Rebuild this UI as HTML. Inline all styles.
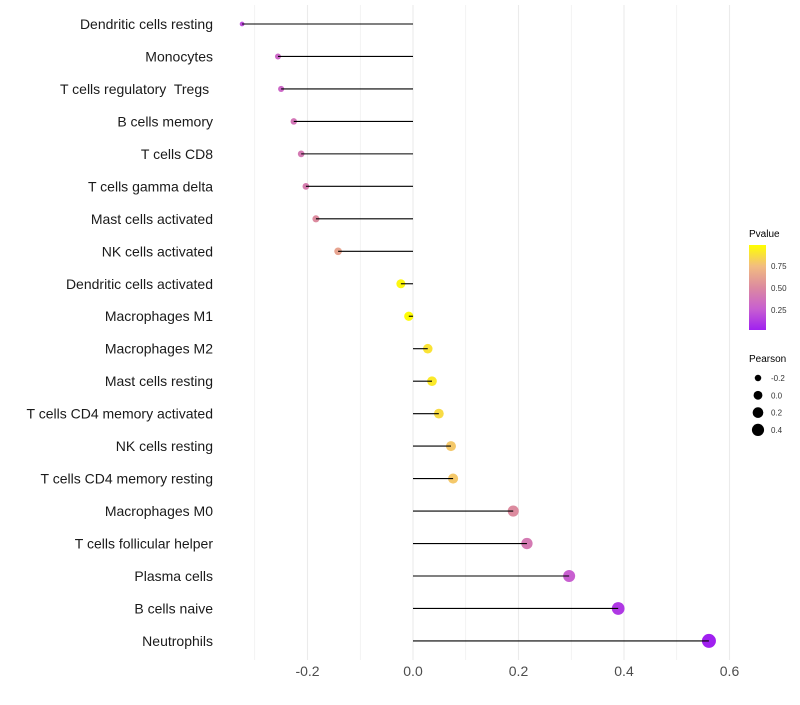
<!DOCTYPE html>
<html><head><meta charset="utf-8"><style>
body{margin:0;background:#fff;font-family:"Liberation Sans",sans-serif}
</style></head><body>
<svg id="chart" width="800" height="700" xmlns="http://www.w3.org/2000/svg">
<defs><linearGradient id="pg" x1="0" y1="1" x2="0" y2="0">
<stop offset="0" stop-color="#a020f0"/><stop offset="0.25" stop-color="#c860d0"/><stop offset="0.5" stop-color="#dc8aa0"/><stop offset="0.75" stop-color="#f2bc80"/><stop offset="1" stop-color="#ffff00"/></linearGradient></defs>
<g id="grid"></g><g id="marks"></g><g id="labels"></g>
<g>
<text x="749" y="237" font-size="10" fill="#000">Pvalue</text>
<rect x="749" y="245" width="17" height="85" fill="url(#pg)"/>
<text x="771" y="269" font-size="8" fill="#333">0.75</text>
<text x="771" y="291" font-size="8" fill="#333">0.50</text>
<text x="771" y="313" font-size="8" fill="#333">0.25</text>
</g>
<g id="sizeLegend">
<text x="749" y="362" font-size="10" fill="#000">Pearson</text>
</g>
</svg>
<script>
const categories=["Dendritic cells resting","Monocytes","T cells regulatory  Tregs ","B cells memory","T cells CD8","T cells gamma delta","Mast cells activated","NK cells activated","Dendritic cells activated","Macrophages M1","Macrophages M2","Mast cells resting","T cells CD4 memory activated","NK cells resting","T cells CD4 memory resting","Macrophages M0","T cells follicular helper","Plasma cells","B cells naive","Neutrophils"];
const pearson=[-0.324,-0.256,-0.250,-0.226,-0.212,-0.203,-0.184,-0.142,-0.023,-0.008,0.028,0.036,0.049,0.072,0.076,0.190,0.216,0.296,0.389,0.561];
const pvalue=[0.18,0.3,0.3,0.38,0.4,0.42,0.5,0.62,0.95,0.97,0.88,0.9,0.85,0.78,0.78,0.5,0.4,0.25,0.1,0.01];
const xTicks=[-0.2,0.0,0.2,0.4,0.6];
const xTickLabels=["-0.2","0.0","0.2","0.4","0.6"];
const sizeLegend=[-0.2,0.0,0.2,0.4];
const NS="http://www.w3.org/2000/svg";
const x=v=>413+v*527.5;
const y=i=>24+i*32.47;
const r=v=>Math.sqrt(Math.max(2.5,9+49*(v+0.256)));
const stops=[[160,32,240],[200,96,208],[220,138,160],[242,188,128],[255,255,0]];
function col(p){let t=Math.max(0,Math.min(1,(p-0.01)/0.97))*4;let i=Math.min(3,Math.floor(t)),f=t-i;
const c=stops[i].map((a,k)=>Math.round(a+(stops[i+1][k]-a)*f));return `rgb(${c})`;}
function mk(tag,at,parent){const e=document.createElementNS(NS,tag);for(const k in at)e.setAttribute(k,at[k]);parent.appendChild(e);return e;}
const grid=document.getElementById('grid'),marks=document.getElementById('marks'),labels=document.getElementById('labels');
for(let v=-0.3;v<=0.61;v+=0.1){const g=mk('line',{x1:x(v),x2:x(v),y1:5,y2:660,stroke:'#ebebeb','stroke-width':Math.abs(Math.round(v*10))%2==0?1.1:0.6},grid);

}
xTicks.forEach((v,i)=>{const t=mk('text',{x:x(v),y:676,'font-size':14,'text-anchor':'middle',fill:'#4d4d4d'},labels);t.textContent=xTickLabels[i];

});
categories.forEach((c,i)=>{const t=mk('text',{x:213,y:y(i)+5,'font-size':14,'text-anchor':'end',fill:'#1a1a1a'},labels);t.textContent=c;t.style.whiteSpace='pre';


const pt=mk('circle',{cx:x(pearson[i]),cy:y(i),r:r(pearson[i]),fill:col(pvalue[i])},marks);


const ln=mk('line',{x1:x(0),x2:x(pearson[i]),y1:y(i),y2:y(i),stroke:'#000','stroke-width':1.1},marks);

});
const sl=document.getElementById('sizeLegend');
sizeLegend.forEach((v,i)=>{const cy=378+i*17.3;const c=mk('circle',{cx:758,cy:cy,r:r(v)*0.95,fill:'#000'},sl);


const t=mk('text',{x:771,y:cy+3,'font-size':8,fill:'#333'},sl);t.textContent=v.toFixed(1);

});
</script>
</body></html>
